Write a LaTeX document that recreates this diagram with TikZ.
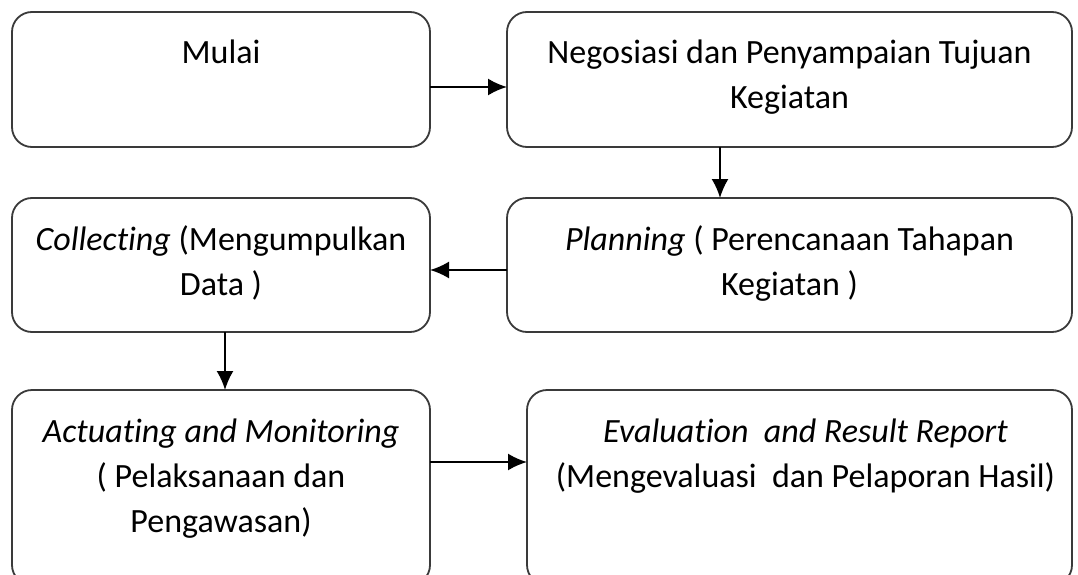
\documentclass[tikz,border=0pt]{standalone}
\usepackage{fontspec}
\setmainfont{Carlito}[Ligatures={NoCommon,NoContextual,NoRare,NoHistoric},Contextuals=NoAlternate]
\usetikzlibrary{arrows.meta}
\definecolor{boxgray}{HTML}{3A3A3A}
\newcommand{\nolig}{\kern0pt{}}
\begin{document}
\begin{tikzpicture}[x=1pt,y=-1pt,
  flowbox/.style={draw=boxgray, line width=1.8pt, rounded corners=20pt, inner sep=0pt, outer sep=0pt},
  boxtext/.style={anchor=base, align=center, inner sep=0pt, text=black,
    font=\fontsize{34}{45}\selectfont},
  conn/.style={draw=black, line width=2pt, -{Latex[length=19pt,width=17pt]}}]
\useasboundingbox (0,0) rectangle (1078,575);
\clip (0,0) rectangle (1078,575);
\fill[white] (0,0) rectangle (1078,575);
% boxes
\node[flowbox, minimum width=418pt, minimum height=135pt] (mulai) at (221,79.5) {};
\node[flowbox, minimum width=565pt, minimum height=135pt] (nego) at (789.5,79.5) {};
\node[flowbox, minimum width=418pt, minimum height=134pt] (coll) at (221,265) {};
\node[flowbox, minimum width=565pt, minimum height=134pt] (plan) at (789.5,265) {};
\node[flowbox, minimum width=418pt, minimum height=195pt] (act) at (221,487.5) {};
\node[flowbox, minimum width=545pt, minimum height=195pt] (eval) at (799.5,487.5) {};
% texts (anchor base = baseline of last line)
\node[boxtext] (tmulai) at ([yshift=-52pt]mulai.north) {Mulai};
\node[boxtext] (tnego) at ([yshift=-97pt]nego.north) {Negosiasi dan Penyampaian Tujuan\\Kegiatan};
\node[boxtext] (tcoll) at ([yshift=-97pt]coll.north) {\textit{Collect\nolig ing} (Mengumpulkan\\Data )};
\node[boxtext] (tplan) at ([yshift=-97pt]plan.north) {\textit{Planning} ( Perencanaan Tahapan\\Kegiatan )};
\node[boxtext] (tact) at ([yshift=-142pt]act.north) {\textit{Actuat\nolig ing and Monitoring}\\( Pelaksanaan dan\\Pengawasan)};
\node[boxtext] (teval) at ([xshift=6pt,yshift=-97pt]eval.north) {\textit{Evaluat\nolig ion\ \ and Result Report}\\(Mengevaluasi\ \ dan Pelaporan Hasil)};
% connectors
\draw[conn] ([yshift=-75pt]mulai.north east) -- ([yshift=-75pt]nego.north west);
\draw[conn] ([xshift=213pt]nego.south west) -- ([xshift=213pt]plan.north west);
\draw[conn] ([yshift=-72pt]plan.north west) -- ([yshift=-72pt]coll.north east);
\draw[conn] ([xshift=213pt]coll.south west) -- ([xshift=213pt]act.north west);
\draw[conn] ([yshift=-72pt]act.north east) -- ([yshift=-72pt]eval.north west);
\end{tikzpicture}
\end{document}
